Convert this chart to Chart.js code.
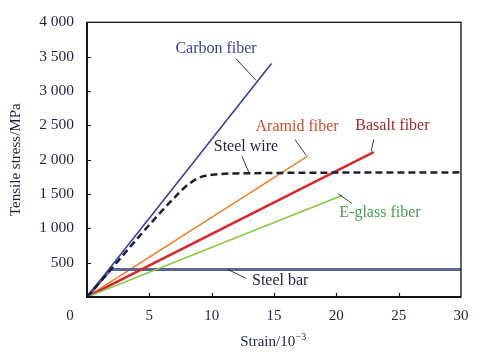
<!DOCTYPE html>
<html>
<head>
<meta charset="utf-8">
<script src="https://cdn.jsdelivr.net/npm/chart.js@4/dist/chart.umd.min.js"></script>
<style>
html,body{margin:0;padding:0;background:#fff;}
#wrap{width:483px;height:357px;position:relative;}
</style>
</head>
<body>
<div id="wrap"><canvas id="c" width="483" height="357"></canvas></div>
<script>
// ---- data ----
const xTicks = [0, 5, 10, 15, 20, 25, 30];
const yTicks = [500, 1000, 1500, 2000, 2500, 3000, 3500, 4000];

const carbonX = [0, 14.8];
const carbonY = [0, 3400];
const aramidX = [0, 17.7];
const aramidY = [0, 2050];
const basaltX = [0, 23.0];
const basaltY = [0, 2110];
const eglassX = [0, 20.5];
const eglassY = [0, 1480];
const wireX = [0, 7.4, 8.2, 9.1, 10.5, 12, 30];
const wireY = [0, 1520, 1650, 1745, 1788, 1800, 1815];
const barX = [0, 1.9, 30];
const barY = [0, 400, 400];

const labelNames = ['Carbon fiber', 'Aramid fiber', 'Basalt fiber', 'Steel wire', 'E-glass fiber', 'Steel bar'];
const labelX = [10.35, 16.85, 24.5, 12.75, 23.5, 15.5];
const labelY = [3613, 2480, 2495, 2180, 1233, 229];
const leaderX1 = [11.95, 16.68, 23.0, 12.43, 20.13, 11.3];
const leaderY1 = [3470, 2294, 2294, 2050, 1505, 401];
const leaderX2 = [13.56, 17.57, 22.8, 13.0, 21.26, 12.75];
const leaderY2 = [3154, 2065, 2122, 1806, 1362, 272];
const labelColors = ['#3a3f94', '#c8502e', '#a3282c', '#1c2140', '#4f9a52', '#1c2140'];

function pts(xs, ys){ return xs.map((x,i)=>({x:x, y:ys[i]})); }

const FONT = "'Liberation Serif', 'Times New Roman', serif";
const TXT = '#1c2340';

const decor = {
  id: 'decor',
  afterDraw(chart){
    const ctx = chart.ctx, a = chart.chartArea;
    const xs = chart.scales.x, ys = chart.scales.y;
    ctx.save();
    // frame
    ctx.strokeStyle = '#111';
    ctx.lineWidth = 1.3;
    ctx.strokeRect(a.left, a.top, a.right - a.left, a.bottom - a.top);
    ctx.lineWidth = 1.8;
    ctx.beginPath();
    ctx.moveTo(a.left, a.top); ctx.lineTo(a.left, a.bottom); ctx.lineTo(a.right, a.bottom);
    ctx.stroke();
    // inward ticks
    ctx.lineWidth = 1.2;
    ctx.beginPath();
    yTicks.forEach(v => { if (v < 4000) { const y = Math.round(ys.getPixelForValue(v)) + 0.5; ctx.moveTo(a.left, y); ctx.lineTo(a.left + 4, y); } });
    xTicks.forEach(v => { if (v > 0 && v < 30) { const x = Math.round(xs.getPixelForValue(v)) + 0.5; ctx.moveTo(x, a.bottom); ctx.lineTo(x, a.bottom - 4); } });
    ctx.stroke();
    // origin label
    ctx.fillStyle = TXT;
    ctx.font = '15px ' + FONT;
    ctx.textAlign = 'center'; ctx.textBaseline = 'middle';
    ctx.fillText('0', a.left - 17, 316);
    // axis titles
    ctx.font = '15px ' + FONT;
    const cx = (a.left + a.right) / 2 - 1;
    const t1 = 'Strain/10';
    const w1 = ctx.measureText(t1).width;
    ctx.font = '10px ' + FONT;
    const w2 = ctx.measureText('\u22123').width;
    const start = cx - (w1 + w2) / 2;
    ctx.textAlign = 'left';
    ctx.font = '15px ' + FONT;
    ctx.fillText(t1, start, 342);
    ctx.font = '10px ' + FONT;
    ctx.fillText('\u22123', start + w1 + 0.5, 337);
    ctx.save();
    ctx.translate(16, (a.top + a.bottom) / 2);
    ctx.rotate(-Math.PI / 2);
    ctx.font = '15px ' + FONT;
    ctx.textAlign = 'center';
    ctx.fillText('Tensile stress/MPa', 0, 0);
    ctx.restore();
    // annotations
    ctx.font = '16px ' + FONT;
    ctx.textAlign = 'center'; ctx.textBaseline = 'middle';
    labelNames.forEach((n, i) => {
      ctx.fillStyle = labelColors[i];
      ctx.fillText(n, xs.getPixelForValue(labelX[i]), ys.getPixelForValue(labelY[i]));
      ctx.strokeStyle = '#222';
      ctx.lineWidth = 0.9;
      ctx.beginPath();
      ctx.moveTo(xs.getPixelForValue(leaderX1[i]), ys.getPixelForValue(leaderY1[i]));
      ctx.lineTo(xs.getPixelForValue(leaderX2[i]), ys.getPixelForValue(leaderY2[i]));
      ctx.stroke();
    });
    ctx.restore();
  }
};

const common = { showLine: true, pointRadius: 0, fill: false, tension: 0 };

new Chart(document.getElementById('c'), {
  type: 'scatter',
  data: {
    datasets: [
      Object.assign({ label: 'Aramid fiber', data: pts(aramidX, aramidY), borderColor: '#e8832c', borderWidth: 1.5, order: 6 }, common),
      Object.assign({ label: 'Steel bar', data: pts(barX, barY), borderColor: '#5b6790', borderWidth: 3, order: 5 }, common),
      Object.assign({ label: 'Basalt fiber', data: pts(basaltX, basaltY), borderColor: '#d22a2e', borderWidth: 2.5, order: 4 }, common),
      Object.assign({ label: 'E-glass fiber', data: pts(eglassX, eglassY), borderColor: '#8cc641', borderWidth: 1.6, order: 3 }, common),
      Object.assign({ label: 'Carbon fiber', data: pts(carbonX, carbonY), borderColor: '#3b3f96', borderWidth: 1.6, order: 2 }, common),
      Object.assign({ label: 'Steel wire', data: pts(wireX, wireY), borderColor: '#1c1f3a', borderWidth: 2.5, borderDash: [7, 4], cubicInterpolationMode: 'monotone', order: 1 }, common)
    ]
  },
  options: {
    responsive: false,
    animation: false,
    layout: { padding: { top: 18, right: 22, left: 0, bottom: 0 } },
    plugins: { legend: { display: false }, tooltip: { enabled: false } },
    scales: {
      x: {
        type: 'linear', min: 0, max: 30,
        afterFit(s){ s.height = 60; },
        afterBuildTicks(s){ s.ticks = xTicks.map(v => ({ value: v })); },
        grid: { display: false, drawTicks: false },
        border: { display: false },
        ticks: { padding: 10, color: TXT, font: { family: FONT, size: 15 }, maxRotation: 0, callback: v => v === 0 ? '' : String(v) }
      },
      y: {
        type: 'linear', min: 0, max: 4000,
        afterFit(s){ s.width = 87; },
        afterBuildTicks(s){ s.ticks = [0].concat(yTicks).map(v => ({ value: v })); },
        grid: { display: false, drawTicks: false },
        border: { display: false },
        ticks: { padding: 13, color: TXT, font: { family: FONT, size: 15.5 }, callback: v => v === 0 ? '' : (v >= 1000 ? Math.floor(v / 1000) + ' ' + String(v % 1000).padStart(3, '0') : String(v)) }
      }
    }
  },
  plugins: [decor]
});
</script>
</body>
</html>
